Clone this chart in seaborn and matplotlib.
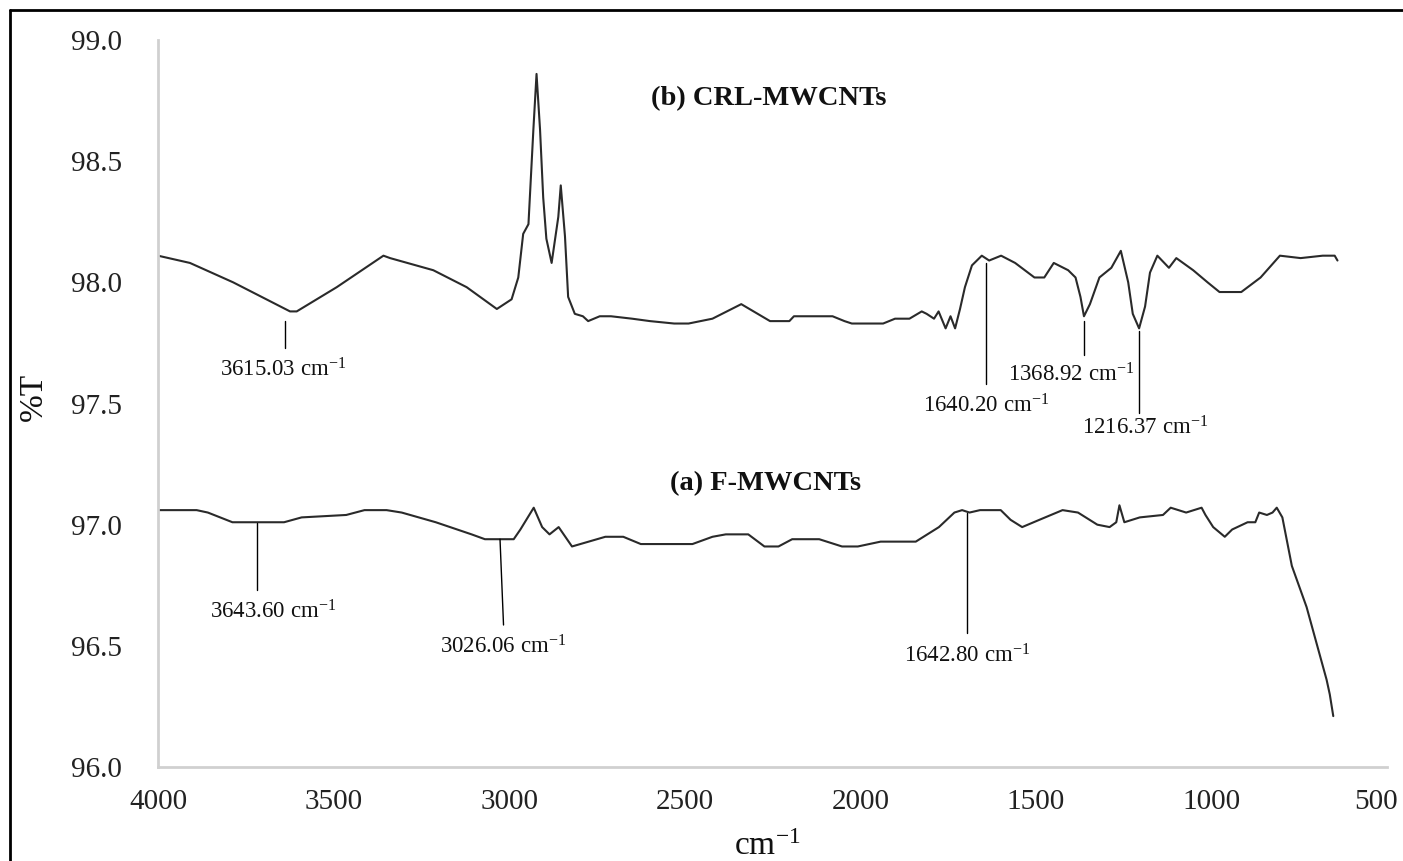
import matplotlib
matplotlib.use("Agg")
import matplotlib.pyplot as plt
from matplotlib.lines import Line2D
from matplotlib.transforms import ScaledTranslation
import seaborn as sns
import pandas as pd

# ---------------- data ----------------
crl_wn = [4000, 3909, 3786, 3624, 3605, 3491, 3358, 3339, 3216, 3121,
          3035, 2993, 2974, 2960, 2945, 2931, 2922, 2912, 2903, 2894,
          2879, 2860, 2853, 2841, 2832, 2813, 2790, 2775, 2742, 2710,
          2650, 2599, 2530, 2489, 2421, 2339, 2257, 2202, 2189, 2079,
          2045, 2024, 1935, 1901, 1860, 1825, 1811, 1790, 1777, 1757,
          1743, 1730, 1716, 1702, 1682, 1654, 1633, 1599, 1559, 1504,
          1476, 1449, 1408, 1387, 1373, 1363, 1346, 1319, 1285, 1258,
          1237, 1224, 1206, 1189, 1175, 1154, 1121, 1100, 1052, 1011,
          977, 915, 860, 805, 746, 683, 649, 641]
crl_t = [98.11, 98.08, 98.00, 97.88, 97.88, 97.98, 98.11, 98.10, 98.05, 97.98,
         97.89, 97.93, 98.02, 98.20, 98.24, 98.63, 98.86, 98.63, 98.35, 98.18,
         98.08, 98.27, 98.40, 98.19, 97.94, 97.87, 97.86, 97.84, 97.86, 97.86,
         97.85, 97.84, 97.83, 97.83, 97.85, 97.91, 97.84, 97.84, 97.86, 97.86,
         97.84, 97.83, 97.83, 97.85, 97.85, 97.88, 97.87, 97.85, 97.88, 97.81,
         97.86, 97.81, 97.89, 97.98, 98.07, 98.11, 98.09, 98.11, 98.08, 98.02,
         98.02, 98.08, 98.05, 98.02, 97.94, 97.86, 97.91, 98.02, 98.06, 98.13,
         98.00, 97.87, 97.81, 97.90, 98.04, 98.11, 98.06, 98.10, 98.05, 98.00,
         97.96, 97.96, 98.02, 98.11, 98.10, 98.11, 98.11, 98.09]

f_wn = [4000, 3890, 3858, 3788, 3729, 3641, 3591, 3464, 3412, 3349,
        3306, 3209, 3107, 3069, 2987, 2968, 2930, 2906, 2885, 2859,
        2821, 2726, 2675, 2625, 2478, 2421, 2383, 2319, 2273, 2233,
        2194, 2117, 2052, 2007, 1942, 1842, 1820, 1776, 1732, 1710,
        1689, 1659, 1600, 1572, 1539, 1490, 1424, 1380, 1325, 1290,
        1271, 1262, 1248, 1204, 1138, 1116, 1072, 1028, 1017, 995,
        962, 941, 897, 875, 864, 842, 826, 814, 798, 771,
        729, 672, 663, 653]
f_t = [97.06, 97.06, 97.05, 97.01, 97.01, 97.01, 97.03, 97.04, 97.06, 97.06,
       97.05, 97.01, 96.96, 96.94, 96.94, 96.98, 97.07, 96.99, 96.96, 96.99,
       96.91, 96.95, 96.95, 96.92, 96.92, 96.95, 96.96, 96.96, 96.91, 96.91,
       96.94, 96.94, 96.91, 96.91, 96.93, 96.93, 96.95, 96.99, 97.05, 97.06,
       97.05, 97.06, 97.06, 97.02, 96.99, 97.02, 97.06, 97.05, 97.00, 96.99,
       97.01, 97.08, 97.01, 97.03, 97.04, 97.07, 97.05, 97.07, 97.04, 96.99,
       96.95, 96.98, 97.01, 97.01, 97.05, 97.04, 97.05, 97.07, 97.03, 96.83,
       96.66, 96.36, 96.30, 96.21]

series_names = ["(b) CRL-MWCNTs", "(a) F-MWCNTs"]
series_label_wn = [2262, 2270]
series_label_t = [98.76, 97.168]

x_ticks = [4000, 3500, 3000, 2500, 2000, 1500, 1000, 500]
y_ticks = [96.0, 96.5, 97.0, 97.5, 98.0, 98.5, 99.0]

# peak annotations: label text, line wavenumber (top, bottom), line %T (top, bottom), label position
ann_text = ["3615.03", "1640.20", "1368.92", "1216.37", "3643.60", "3026.06", "1642.80"]
ann_wn_top = [3638, 1642, 1363, 1206, 3718, 3026, 1696]
ann_wn_bot = [3638, 1642, 1363, 1206, 3718, 3016, 1696]
ann_t_top = [97.84, 98.08, 97.84, 97.80, 97.007, 96.94, 97.05]
ann_t_bot = [97.73, 97.58, 97.70, 97.46, 96.73, 96.586, 96.553]
ann_label_wn = [3644, 1642, 1400, 1189, 3673, 3016, 1696]
ann_label_t = [97.64, 97.49, 97.62, 97.40, 96.64, 96.495, 96.46]

# ---------------- style ----------------
sns.set_style("white")
plt.rcParams["font.family"] = ["Liberation Serif", "DejaVu Serif"]
plt.rcParams["mathtext.fontset"] = "custom"
plt.rcParams["mathtext.rm"] = "Liberation Serif"
plt.rcParams["mathtext.it"] = "Liberation Serif:italic"
plt.rcParams["mathtext.bf"] = "Liberation Serif:bold"

W, H = 1403, 861
fig = plt.figure(figsize=(W / 100, H / 100), dpi=100)
ax = fig.add_axes([158 / W, (H - 767) / H, (1387 - 158) / W, (767 - 40) / H])

df = pd.concat([
    pd.DataFrame({"wn": crl_wn, "T": crl_t, "sample": series_names[0]}),
    pd.DataFrame({"wn": f_wn, "T": f_t, "sample": series_names[1]}),
])
sns.lineplot(data=df, x="wn", y="T", hue="sample", units="sample", estimator=None,
             sort=False, palette=["#2a2a2a", "#2a2a2a"], linewidth=1.5,
             legend=False, ax=ax)

for txt, x0, x1, y0, y1, lx, ly in zip(ann_text, ann_wn_top, ann_wn_bot, ann_t_top,
                                       ann_t_bot, ann_label_wn, ann_label_t):
    ax.plot([x0, x1], [y0, y1], color="black", linewidth=1.0)
    ax.text(lx, ly, txt + r" cm$^{-1}$", ha="center", va="center", fontsize=16.5,
            color="#111111")

for name, lx, ly in zip(series_names, series_label_wn, series_label_t):
    ax.text(lx, ly, name, ha="center", va="center", fontsize=20.5, fontweight="bold",
            color="#111111")

ax.set_xlim(4000, 500)
ax.set_ylim(96.0, 99.0)
ax.set_xticks(x_ticks)
ax.set_xticklabels([str(v) for v in x_ticks])
ax.set_yticks(y_ticks)
ax.set_yticklabels([f"{v:.1f}" for v in y_ticks])
ax.tick_params(axis="both", length=0, labelsize=21, colors="#222222")
ax.tick_params(axis="y", pad=26)
ax.tick_params(axis="x", pad=16)

# last x tick label is nudged left so it stays inside the picture
last = ax.get_xticklabels()[-1]
last.set_transform(last.get_transform() + ScaledTranslation(-11 / 100, 0, fig.dpi_scale_trans))

for s in ["top", "right"]:
    ax.spines[s].set_visible(False)
for s in ["left", "bottom"]:
    ax.spines[s].set_color("#d0d0d0")
    ax.spines[s].set_linewidth(2.0)

ax.set_xlabel(r"cm$^{-1}$", fontsize=24, color="#111111")
ax.xaxis.label.set_va("center")
ax.xaxis.set_label_coords((767 - 158) / (1387 - 158), (767 - 847) / (767 - 40))
ax.set_ylabel("%T", fontsize=24, color="#111111")
ax.yaxis.label.set_va("center")
ax.yaxis.set_label_coords((34 - 158) / (1387 - 158), (767 - 397) / (767 - 40))

# frame visible on the top and left edges only
fig.add_artist(Line2D([10 / W, 10 / W], [0, 1 - 10 / H], transform=fig.transFigure,
                      color="black", linewidth=2.0))
fig.add_artist(Line2D([10 / W, 1], [1 - 10 / H, 1 - 10 / H], transform=fig.transFigure,
                      color="black", linewidth=2.0))

fig.savefig("out.png", dpi=100, facecolor="white")
